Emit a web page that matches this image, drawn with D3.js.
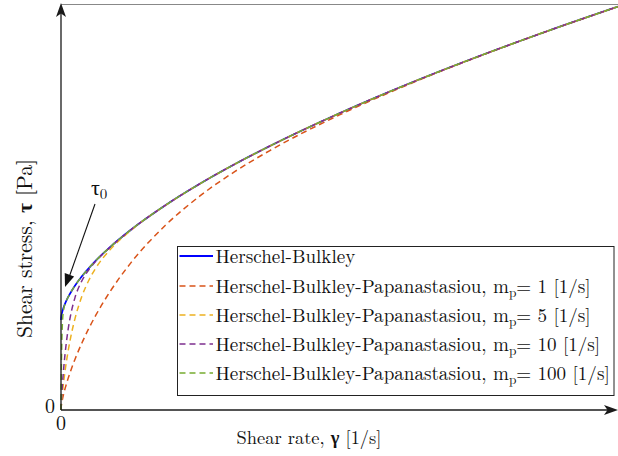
<!DOCTYPE html>
<html>
<head>
<meta charset="utf-8">
<script src="https://cdn.jsdelivr.net/npm/d3@7"></script>
<style>
  html, body { margin: 0; padding: 0; background: #fff; }
  svg { display: block; }
</style>
</head>
<body>
<svg id="chart" width="618" height="456" font-family="'Latin Modern Roman', 'Liberation Serif', serif"></svg>
<script>
// Shear rate samples [1/s]
const shearRate = [0, 0.002, 0.005, 0.01, 0.02, 0.04, 0.06, 0.1, 0.15, 0.2, 0.3, 0.4, 0.5, 0.7, 1, 1.5, 2, 2.5, 3, 4, 5, 6, 7, 8];

// Shear stress [Pa] for each model
const stressHB    = [10, 10.24, 10.42, 10.63, 10.96, 11.45, 11.85, 12.51, 13.20, 13.81, 14.86, 15.77, 16.60, 18.07, 20.00, 22.75, 25.16, 27.33, 29.33, 32.97, 36.27, 39.30, 42.14, 44.82];
const stressHBP1  = [0, 0.26, 0.47, 0.73, 1.15, 1.84, 2.43, 3.46, 4.59, 5.62, 7.45, 9.07, 10.53, 13.10, 16.32, 20.52, 23.81, 26.51, 28.83, 32.79, 36.20, 39.28, 42.13, 44.82];
const stressHBP5  = [0, 0.34, 0.67, 1.12, 1.91, 3.26, 4.44, 6.44, 8.48, 10.13, 12.63, 14.42, 15.78, 17.77, 19.93, 22.74, 25.16, 27.33, 29.33, 32.97, 36.27, 39.30, 42.14, 44.82];
const stressHBP10 = [0, 0.44, 0.91, 1.58, 2.77, 4.75, 6.36, 8.83, 10.97, 12.46, 14.36, 15.59, 16.53, 18.06, 20.00, 22.75, 25.16, 27.33, 29.33, 32.97, 36.27, 39.30, 42.14, 44.82];
const stressHBP100 = [0, 2.05, 4.35, 6.95, 9.61, 11.27, 11.83, 12.51, 13.20, 13.81, 14.86, 15.77, 16.60, 18.07, 20.00, 22.75, 25.16, 27.33, 29.33, 32.97, 36.27, 39.30, 42.14, 44.82];

const seriesNames = ["Herschel-Bulkley", "Herschel-Bulkley-Papanastasiou", "Herschel-Bulkley-Papanastasiou", "Herschel-Bulkley-Papanastasiou", "Herschel-Bulkley-Papanastasiou"];
const seriesMp = [null, "1", "5", "10", "100"];
const seriesColors = ["#0000ff", "#d95319", "#edb120", "#7e2f8e", "#77ac30"];
const seriesValues = [stressHB, stressHBP1, stressHBP5, stressHBP10, stressHBP100];

const yieldStress = 10; // τ0 [Pa]
const xDomain = [0, 8];
const yDomain = [0, 45];

const svg = d3.select("#chart");
const x = d3.scaleLinear().domain(xDomain).range([61, 618]);
const y = d3.scaleLinear().domain(yDomain).range([410, 5]);

// scale a text element's font so its rendered box spans the given width
function fitWidth(sel, target, base) {
  const w = sel.node().getBBox().width;
  const size = base * target / w;
  sel.attr("font-size", size);
  return size;
}

// top frame line
svg.append("line")
  .attr("x1", 61).attr("x2", 618).attr("y1", 4.5).attr("y2", 4.5)
  .attr("stroke", "#888").attr("stroke-width", 1.2);

// curves
const line = d3.line()
  .x((d, i) => x(shearRate[i]))
  .y(d => y(d))
  .curve(d3.curveMonotoneX);

const curves = svg.append("g");
seriesValues.forEach((vals, k) => {
  curves.append("path")
    .attr("d", line(vals))
    .attr("fill", "none")
    .attr("stroke", seriesColors[k])
    .attr("stroke-width", k === 0 ? 1.7 : 1.5)
    .attr("stroke-dasharray", k === 0 ? null : "6,4");
});

// axes with arrow heads
const axisColor = "#1a1a1a";
const x0 = x(0), y0 = y(0);
svg.append("line").attr("x1", x0).attr("x2", 612).attr("y1", y0).attr("y2", y0)
  .attr("stroke", axisColor).attr("stroke-width", 1.3);
svg.append("line").attr("x1", x0).attr("x2", x0).attr("y1", y0).attr("y2", 10)
  .attr("stroke", axisColor).attr("stroke-width", 1.3);
svg.append("path")
  .attr("d", `M${x0},3 L${x0 + 5},17 L${x0},13.5 L${x0 - 5},17 Z`)
  .attr("fill", axisColor);
svg.append("path")
  .attr("d", `M618,${y0} L604,${y0 - 5} L607.5,${y0} L604,${y0 + 5} Z`)
  .attr("fill", axisColor);

// zero labels
svg.append("text").attr("x", 50).attr("y", 413).attr("text-anchor", "middle")
  .attr("font-size", 20).attr("fill", "#111").text("0");
svg.append("text").attr("x", 61).attr("y", 430).attr("text-anchor", "middle")
  .attr("font-size", 20).attr("fill", "#111").text("0");

// axis titles
const xt = svg.append("text").attr("x", 309).attr("y", 444).attr("text-anchor", "middle")
  .attr("font-size", 19).attr("fill", "#111");
xt.append("tspan").text("Shear rate, ");
xt.append("tspan").attr("font-weight", "bold").text("γ");
xt.append("tspan").text(" [1/s]");
fitWidth(xt, 145, 19);

const yt = svg.append("text").attr("transform", "translate(32,248.5) rotate(-90)")
  .attr("text-anchor", "middle").attr("font-size", 19).attr("fill", "#111");
yt.append("tspan").text("Shear stress, ");
yt.append("tspan").attr("font-weight", "bold").text("τ");
yt.append("tspan").text(" [Pa]");
fitWidth(yt, 179, 19);

// τ0 annotation with arrow
const tipX = x(0) + 4, tipY = y(yieldStress) - 33;
svg.append("line").attr("x1", 95).attr("y1", 204).attr("x2", tipX + 4.5).attr("y2", tipY - 11)
  .attr("stroke", "#111").attr("stroke-width", 1.1);
(function () {
  const ang = Math.atan2(tipY - 204, tipX - 95);
  const len = 13, half = 5;
  const bx = tipX - len * Math.cos(ang), by = tipY - len * Math.sin(ang);
  const px = -Math.sin(ang) * half, py = Math.cos(ang) * half;
  svg.append("path")
    .attr("d", `M${tipX},${tipY} L${bx + px},${by + py} L${bx - px},${by - py} Z`)
    .attr("fill", "#111");
})();
const tl = svg.append("text").attr("x", 91).attr("y", 195).attr("font-size", 22)
  .attr("font-family", "'Liberation Serif', serif").attr("fill", "#111");
tl.append("tspan").text("τ");
tl.append("tspan").attr("font-family", "'Latin Modern Roman', serif").attr("font-size", 15).attr("dy", 4).text("0");

// legend
const lg = svg.append("g");
lg.append("rect").attr("x", 177.5).attr("y", 246.5).attr("width", 436.5).attr("height", 149)
  .attr("fill", "#fff").attr("stroke", "#222").attr("stroke-width", 1);

const rowY = [256, 286, 315, 344, 373];
const legendTexts = [];
seriesNames.forEach((name, k) => {
  const ry = rowY[k];
  lg.append("line").attr("x1", 179.5).attr("x2", 213).attr("y1", ry).attr("y2", ry)
    .attr("stroke", seriesColors[k]).attr("stroke-width", k === 0 ? 1.8 : 1.6)
    .attr("stroke-dasharray", k === 0 ? null : "6,4");
  const t = lg.append("text").attr("x", 215.5).attr("y", ry + 6.5).attr("fill", "#111");
  if (seriesMp[k] === null) {
    t.text(name);
  } else {
    t.append("tspan").text(name + ", m");
    t.append("tspan").attr("class", "sub").attr("dy", 4).text("p");
    t.append("tspan").attr("dy", -4).text("= " + seriesMp[k] + " [1/s]");
  }
  legendTexts.push(t);
});

// pick the legend font size so the widest row ends just inside the box
function setLegendSize(s) {
  legendTexts.forEach(t => {
    t.attr("font-size", s);
    t.selectAll("tspan.sub").attr("font-size", s * 0.7);
  });
}
const rightLimit = 611.5;
let legendSize = 19;
for (let i = 0; i < 6; i++) {
  setLegendSize(legendSize);
  const b = legendTexts[4].node().getBBox();
  const w = b.x + b.width - 215.5;
  legendSize *= (rightLimit - 215.5) / w;
}
setLegendSize(legendSize);
let guard = 0;
while (guard++ < 20) {
  const b = legendTexts[4].node().getBBox();
  if (b.x + b.width <= rightLimit) break;
  legendSize -= 0.1;
  setLegendSize(legendSize);
}
</script>
</body>
</html>
